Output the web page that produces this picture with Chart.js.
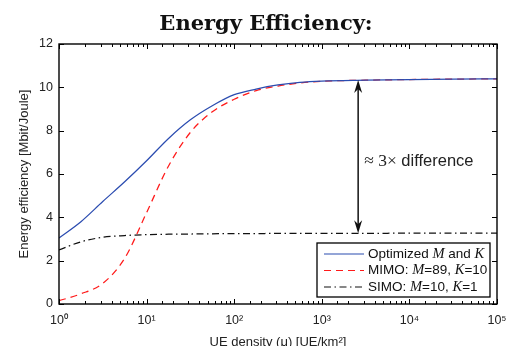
<!DOCTYPE html>
<html><head><meta charset="utf-8">
<script src="https://cdn.jsdelivr.net/npm/chart.js@4"></script>
<style>html,body{margin:0;padding:0;background:#fff}#wrap{width:532px;height:346px}</style>
</head><body><div id="wrap"><canvas id="c" width="532" height="346"></canvas></div>
<script>
// ---- data ----
const titleText = 'Energy Efficiency:';
const xAxisTitle = 'UE density (μ) [UE/km²]';
const yAxisTitle = 'Energy efficiency [Mbit/Joule]';
const xTickValues = [1, 10, 100, 1000, 10000, 100000];
const xTickLabels = ['10⁰', '10¹', '10²', '10³', '10⁴', '10⁵'];
const yTickValues = [0, 2, 4, 6, 8, 10, 12];
const densities = [1, 1.78, 3.16, 5.62, 10, 17.8, 31.6, 56.2, 100, 178, 316, 562, 1000, 3162, 10000, 31623, 100000];
const optimizedEE = [3.05, 3.8, 4.73, 5.64, 6.61, 7.64, 8.5, 9.15, 9.66, 9.92, 10.11, 10.23, 10.29, 10.33, 10.36, 10.38, 10.39];
const mimoEE = [0.15, 0.47, 0.95, 2.11, 4.22, 6.37, 7.92, 8.87, 9.45, 9.85, 10.06, 10.2, 10.28, 10.33, 10.36, 10.38, 10.39];
const simoEE = [2.5, 2.87, 3.08, 3.16, 3.2, 3.22, 3.23, 3.24, 3.25, 3.25, 3.26, 3.26, 3.26, 3.26, 3.27, 3.27, 3.27];
const legendLabels = ['Optimized $M$ and $K$', 'MIMO: $M$=89, $K$=10', 'SIMO: $M$=10, $K$=1'];
const arrowDensity = 2600;
const arrowTop = 10.34;
const arrowBottom = 3.26;
const annotationText = '$≈ 3×$ difference';
const annotationY = 6.57;

// ---- styling ----
const SANS = '"Liberation Sans", Arial, Helvetica, sans-serif';
const SERIF = '"Liberation Serif", "Times New Roman", serif';
const seriesStyles = [
  {color: '#2b4cb0', dash: []},
  {color: '#ff1a1a', dash: [7, 5]},
  {color: '#111111', dash: [7, 3.5, 1.5, 3.5]}
];
const seriesData = [optimizedEE, mimoEE, simoEE];

function drawRich(ctx, str, x, y, size, mathStyle) {
  const parts = str.split('$');
  parts.forEach((p, i) => {
    const math = i % 2 === 1;
    ctx.font = math ? (mathStyle + ' ' + (size + 1) + 'px ' + SERIF) : (size + 'px ' + SANS);
    ctx.fillText(p, x, y);
    x += ctx.measureText(p).width;
  });
}

const framePlugin = {
  id: 'frame',
  afterDatasetsDraw(chart) {
    const ctx = chart.ctx;
    const a = chart.chartArea;
    const xs = chart.scales.x, ys = chart.scales.y;
    ctx.save();
    // ticks
    ctx.strokeStyle = '#000';
    ctx.lineWidth = 1;
    ctx.beginPath();
    xs.ticks.forEach(t => {
      const v = t.value;
      if (v < 1 || v > 1e5) return;
      const lg = Math.log10(v);
      const major = Math.abs(lg - Math.round(lg)) < 1e-9;
      const len = major ? 5 : 3;
      const px = Math.round(xs.getPixelForValue(v)) + 0.5;
      ctx.moveTo(px, a.bottom); ctx.lineTo(px, a.bottom - len);
      ctx.moveTo(px, a.top); ctx.lineTo(px, a.top + len);
    });
    yTickValues.forEach(v => {
      const py = Math.round(ys.getPixelForValue(v)) + 0.5;
      ctx.moveTo(a.left, py); ctx.lineTo(a.left + 5, py);
      ctx.moveTo(a.right, py); ctx.lineTo(a.right - 5, py);
    });
    ctx.stroke();
    // frame
    ctx.lineWidth = 1.4;
    ctx.strokeRect(a.left, a.top, a.right - a.left, a.bottom - a.top);

    // arrow
    const ax = xs.getPixelForValue(arrowDensity);
    const yt = ys.getPixelForValue(arrowTop);
    const yb = ys.getPixelForValue(arrowBottom);
    ctx.strokeStyle = '#111';
    ctx.fillStyle = '#111';
    ctx.lineWidth = 1.5;
    ctx.beginPath();
    ctx.moveTo(ax, yt + 8); ctx.lineTo(ax, yb - 8);
    ctx.stroke();
    const head = (tipY, dir) => {
      ctx.beginPath();
      ctx.moveTo(ax, tipY);
      ctx.lineTo(ax - 4, tipY + dir * 13);
      ctx.lineTo(ax, tipY + dir * 9);
      ctx.lineTo(ax + 4, tipY + dir * 13);
      ctx.closePath();
      ctx.fill();
    };
    head(yt, 1);
    head(yb, -1);
    // annotation text
    ctx.fillStyle = '#222';
    ctx.textBaseline = 'middle';
    ctx.textAlign = 'left';
    drawRich(ctx, annotationText, ax + 6, ys.getPixelForValue(annotationY), 16.5, '');

    // legend
    const lw = 173, lh = 54;
    const lx = a.right - 7 - lw, ly = a.bottom - 7 - lh;
    ctx.fillStyle = '#fff';
    ctx.fillRect(lx, ly, lw, lh);
    ctx.strokeStyle = '#000';
    ctx.lineWidth = 1.3;
    ctx.strokeRect(lx, ly, lw, lh);
    legendLabels.forEach((lab, i) => {
      const yy = ly + 11 + i * 16.5;
      ctx.strokeStyle = seriesStyles[i].color;
      ctx.lineWidth = 1.2;
      ctx.setLineDash(seriesStyles[i].dash);
      ctx.beginPath();
      ctx.moveTo(lx + 7, yy); ctx.lineTo(lx + 47, yy);
      ctx.stroke();
      ctx.setLineDash([]);
      ctx.fillStyle = '#111';
      drawRich(ctx, lab, lx + 51, yy, 13.5, 'italic');
    });
    ctx.restore();
  }
};

new Chart(document.getElementById('c'), {
  type: 'line',
  data: {
    datasets: legendLabels.map((lab, i) => ({
      label: lab.replace(/\$/g, ''),
      data: densities.map((x, j) => ({x: x, y: seriesData[i][j]})),
      yAxisID: 'y',
      borderColor: seriesStyles[i].color,
      borderDash: seriesStyles[i].dash,
      borderWidth: 1.25,
      pointRadius: 0,
      fill: false,
      cubicInterpolationMode: 'monotone'
    }))
  },
  options: {
    responsive: false,
    animation: false,
    layout: {padding: 0},
    plugins: {
      legend: {display: false},
      tooltip: {enabled: false},
      title: {
        display: true, text: titleText, color: '#111',
        font: {family: '"DejaVu Serif", serif', size: 21, weight: 'bold', lineHeight: 1.2},
        padding: {top: 12, bottom: 6.8}
      }
    },
    scales: {
      x: {
        type: 'logarithmic', min: 1, max: 100000, position: 'bottom',
        grid: {display: false, drawTicks: false},
        border: {display: false},
        ticks: {
          autoSkip: false, maxRotation: 0, padding: 9, color: '#222',
          font: {family: SANS, size: 12.5},
          callback: (v) => {
            const lg = Math.log10(v);
            if (Math.abs(lg - Math.round(lg)) > 1e-9) return '';
            const i = xTickValues.indexOf(Math.pow(10, Math.round(lg)));
            return i >= 0 ? xTickLabels[i] : '';
          }
        },
        title: {display: true, text: xAxisTitle, color: '#222', font: {family: SANS, size: 13, lineHeight: 1.2}, padding: {top: 0, bottom: -4}},
        afterFit: s => { s.height = 42; }
      },
      y: {
        min: 0, max: 12, position: 'left',
        grid: {display: false, drawTicks: false},
        border: {display: false},
        ticks: {stepSize: 2, padding: 6, color: '#222', font: {family: SANS, size: 12.5}},
        title: {display: true, text: yAxisTitle, color: '#222', font: {family: SANS, size: 13, lineHeight: 1.2}, padding: {top: 17, bottom: 0}},
        afterFit: s => { s.width = 59; }
      },
      yRight: {
        min: 0, max: 12, position: 'right',
        grid: {display: false, drawTicks: false},
        border: {display: false},
        ticks: {display: false},
        afterFit: s => { s.width = 35; }
      }
    }
  },
  plugins: [framePlugin]
});
</script></body></html>
